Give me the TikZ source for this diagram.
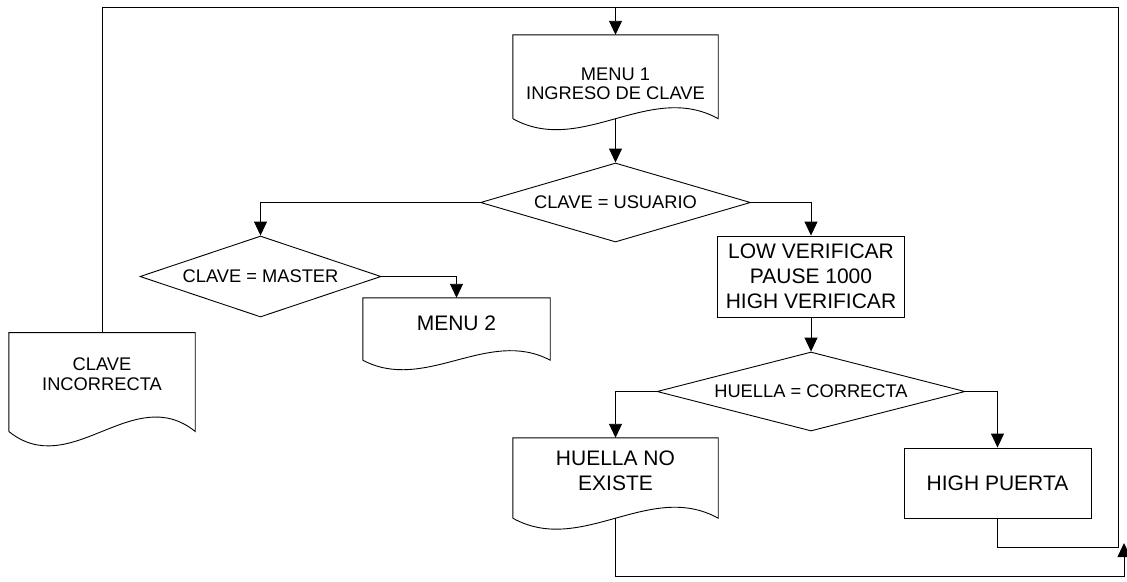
\documentclass[tikz,border=0pt]{standalone}
\usepackage{fontspec}
\setmainfont{Liberation Sans}
\usetikzlibrary{arrows.meta,shapes.geometric,calc}

% borde de documento: tres lados rectos y la onda abajo
\newcommand\hoja[2]{%
  \draw[linea] (#1.south west) -- (#1.north west) -- (#1.north east) -- (#1.south east)
    .. controls ($(#1.south east)!1/3!(#1.south west)+(0,-#2)$)
    and ($(#1.south east)!2/3!(#1.south west)+(0,#2)$) .. (#1.south west);
}

\begin{document}
\begin{tikzpicture}[x=1pt, y=-1pt, >={Triangle[length=14pt,width=13pt]},
    linea/.style={line width=0.9pt},
    grande/.style={font=\fontsize{21}{25}\selectfont, align=center, inner sep=0pt},
    chica/.style={font=\fontsize{18.3}{19.5}\selectfont, align=center, inner sep=0pt},
    hojabox/.style={rectangle, draw=none, inner sep=0pt},
    caja/.style={rectangle, draw, linea, grande},
    rombo/.style={diamond, draw, linea, chica, inner sep=0pt}]

\useasboundingbox (0,0) rectangle (1127,581);

% Documentos
\node[hojabox, minimum width=205, minimum height=83.5] (menu1) at (615.5,76.75) {};
\node[chica] (menu1t) at (615.5,84) {MENU 1\\INGRESO DE CLAVE};
\hoja{menu1}{38}

\node[hojabox, minimum width=187, minimum height=62] (menu2) at (456.5,329) {};
\node[grande] (menu2t) at (456.5,323) {MENU 2};
\hoja{menu2}{33}

\node[hojabox, minimum width=205, minimum height=80] (noexiste) at (615.5,478) {};
\node[grande] (noexistet) at (615.5,470.5) {HUELLA NO\\EXISTE};
\hoja{noexiste}{38}

\node[hojabox, minimum width=186, minimum height=98.5] (incorrecta) at (102,382) {};
\node[chica] (incorrectat) at (102,374) {CLAVE\\INCORRECTA};
\hoja{incorrecta}{50}

% Decisiones
\node[rombo, aspect=3.4, minimum width=270, minimum height=79] (usuario) at (615.5,202.5) {CLAVE = USUARIO};
\node[rombo, aspect=3, minimum width=241, minimum height=81] (master) at (260.5,276.5) {CLAVE = MASTER};
\node[rombo, aspect=3.9, minimum width=308, minimum height=79] (huella) at (811,391.5) {HUELLA = CORRECTA};

% Procesos
\node[caja, minimum width=186.5, minimum height=81] (verif) at (811,276.5) {LOW VERIFICAR\\PAUSE 1000\\HIGH VERIFICAR};
\node[caja, minimum width=187, minimum height=70] (puerta) at (997.5,483) {HIGH PUERTA};

% Esquinas del lazo
\coordinate (esqD) at (1118,547);
\coordinate (esqA) at (1118,7);
\coordinate (esqB) at (102,7);
\coordinate (entrada) at (1124,543);

% Flechas
\draw[->,linea] (menu1.south) -- (usuario.north);
\draw[->,linea] (usuario.west) -| (master.north);
\draw[->,linea] (master.east) -| (menu2.north);
\draw[->,linea] (usuario.east) -| (verif.north);
\draw[->,linea] (verif.south) -- (huella.north);
\draw[->,linea] (huella.west) -| (noexiste.north);
\draw[->,linea] (huella.east) -| (puerta.north);

% Retorno al menu
\draw[linea] (puerta.south) |- (esqD) -- (esqA) -- (esqB) -- (incorrecta.north);
\draw[->,linea] (menu1.north |- esqA) -- (menu1.north);
\draw[->,linea] (noexiste.south) -- ++(0,58) -| (entrada);

\end{tikzpicture}
\end{document}
